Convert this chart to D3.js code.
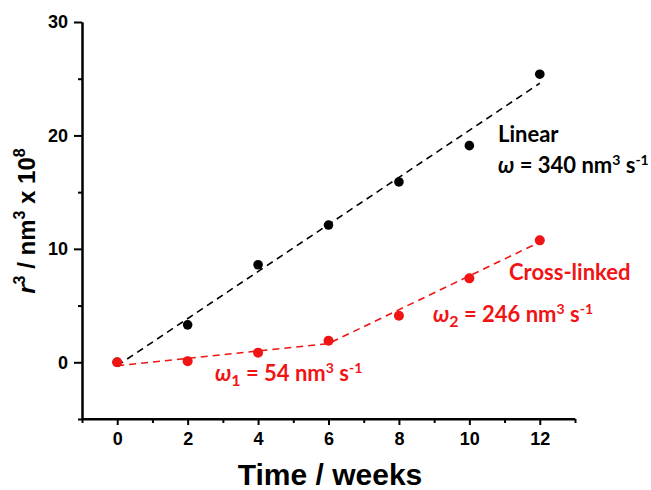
<!DOCTYPE html>
<html>
<head>
<meta charset="utf-8">
<title>r3 vs time</title>
<script src="https://cdn.jsdelivr.net/npm/d3@7/dist/d3.min.js"></script>
<style>
  * { margin: 0; padding: 0; }
  body { background: #fff; }
  .tick text { font-family: Arial, "Liberation Sans", sans-serif; font-weight: bold; font-size: 18px; }
  .note { font-family: Lato, "Open Sans", sans-serif; font-weight: bold; font-size: 22px; }
</style>
</head>
<body>
<div id="chart"></div>
<script>
// data
var weeks = [0, 2, 4, 6, 8, 10, 12];
var linearVals = [0, 3.3, 8.6, 12.1, 15.9, 19.1, 25.4];
var crossVals = [0, 0.1, 0.85, 1.9, 4.1, 7.4, 10.75];
// dashed fits: [week, value]
var linearFit = [[0, -0.3], [12, 24.6]];
var crossFit = [[0, -0.3], [6, 1.65], [12, 10.6]];
var xTicks = [0, 2, 4, 6, 8, 10, 12];
var yTicks = [0, 10, 20, 30];

var W = 651, H = 490;
var red = "#f01414";

var svg = d3.select("#chart").append("svg")
  .attr("width", W).attr("height", H);

var x = d3.scaleLinear().domain([-1, 13]).range([82, 575]);
var y = d3.scaleLinear().domain([-5, 30]).range([419, 22]);

// axes
var xAxis = svg.append("g").attr("transform", "translate(0," + y(-5) + ")")
  .call(d3.axisBottom(x).tickValues(xTicks).tickSize(6).tickPadding(7).tickSizeOuter(0));
var xMinor = svg.append("g").attr("transform", "translate(0," + y(-5) + ")")
  .call(d3.axisBottom(x).tickValues([-1, 1, 3, 5, 7, 9, 11, 13]).tickSize(4).tickFormat("").tickSizeOuter(0));
var yAxis = svg.append("g").attr("transform", "translate(" + x(-1) + ",0)")
  .call(d3.axisLeft(y).tickValues(yTicks).tickSize(8).tickPadding(6).tickSizeOuter(0));
var yMinor = svg.append("g").attr("transform", "translate(" + x(-1) + ",0)")
  .call(d3.axisLeft(y).tickValues([-5, 5, 15, 25]).tickSize(4).tickFormat("").tickSizeOuter(0));

[xAxis, xMinor, yAxis, yMinor].forEach(function(g){
  g.selectAll("path, line").attr("stroke", "#000").attr("stroke-width", 2);
  g.selectAll("text").attr("fill", "#000");
});
xAxis.selectAll("path").attr("d", "M" + x(-1) + ",0H" + x(13));

// fit lines
var line = d3.line().x(function(d){ return x(d[0]); }).y(function(d){ return y(d[1]); });
svg.append("path").datum(linearFit).attr("d", line)
  .attr("fill", "none").attr("stroke", "#000").attr("stroke-width", 1.6).attr("stroke-dasharray", "7,5");
svg.append("path").datum(crossFit).attr("d", line)
  .attr("fill", "none").attr("stroke", red).attr("stroke-width", 1.6).attr("stroke-dasharray", "7,5");

// points
svg.append("g").selectAll("circle").data(weeks).enter().append("circle")
  .attr("cx", function(d){ return x(d); })
  .attr("cy", function(d, i){ return y(linearVals[i]); })
  .attr("r", 4.8).attr("fill", "#000");
svg.append("g").selectAll("circle").data(weeks).enter().append("circle")
  .attr("cx", function(d){ return x(d); })
  .attr("cy", function(d, i){ return y(crossVals[i]); })
  .attr("r", 5).attr("fill", red);

// annotations
function omegaText(px, py, color, sub, rest) {
  var t = svg.append("text").attr("class", "note").attr("x", px).attr("y", py).attr("fill", color);
  t.append("tspan").attr("font-style", "italic").text("\u03c9");
  if (sub) t.append("tspan").attr("font-size", 16).attr("dy", 5).text(sub);
  t.append("tspan").attr("dy", sub ? -5 : 0).text(" = " + rest + " nm");
  t.append("tspan").attr("font-size", 14).attr("dy", -8).text("3");
  t.append("tspan").attr("dy", 8).text(" s");
  t.append("tspan").attr("font-size", 14).attr("dy", -8).text("-1");
}
svg.append("text").attr("class", "note").attr("x", 498).attr("y", 142).attr("fill", "#000").text("Linear");
omegaText(498, 173, "#000", null, "340");
svg.append("text").attr("class", "note").attr("x", 509).attr("y", 280).attr("fill", red).text("Cross-linked");
omegaText(433, 322, red, "2", "246");
omegaText(215, 381, red, "1", "54");

// axis titles
svg.append("text")
  .attr("x", 330).attr("y", 485)
  .attr("text-anchor", "middle")
  .attr("font-family", "Arial, 'Liberation Sans', sans-serif")
  .attr("font-weight", "bold").attr("font-size", 30)
  .text("Time / weeks");

var yt = svg.append("text")
  .attr("transform", "translate(35,221) rotate(-90)")
  .attr("text-anchor", "middle")
  .attr("font-family", "Arial, 'Liberation Sans', sans-serif")
  .attr("font-weight", "bold").attr("font-size", 24);
yt.append("tspan").attr("font-style", "italic").text("r");
yt.append("tspan").attr("font-size", 16).attr("dy", -10).text("3");
yt.append("tspan").attr("dy", 10).text(" / nm");
yt.append("tspan").attr("font-size", 16).attr("dy", -10).text("3");
yt.append("tspan").attr("dy", 10).text(" x 10");
yt.append("tspan").attr("font-size", 16).attr("dy", -10).text("8");
</script>
</body>
</html>
